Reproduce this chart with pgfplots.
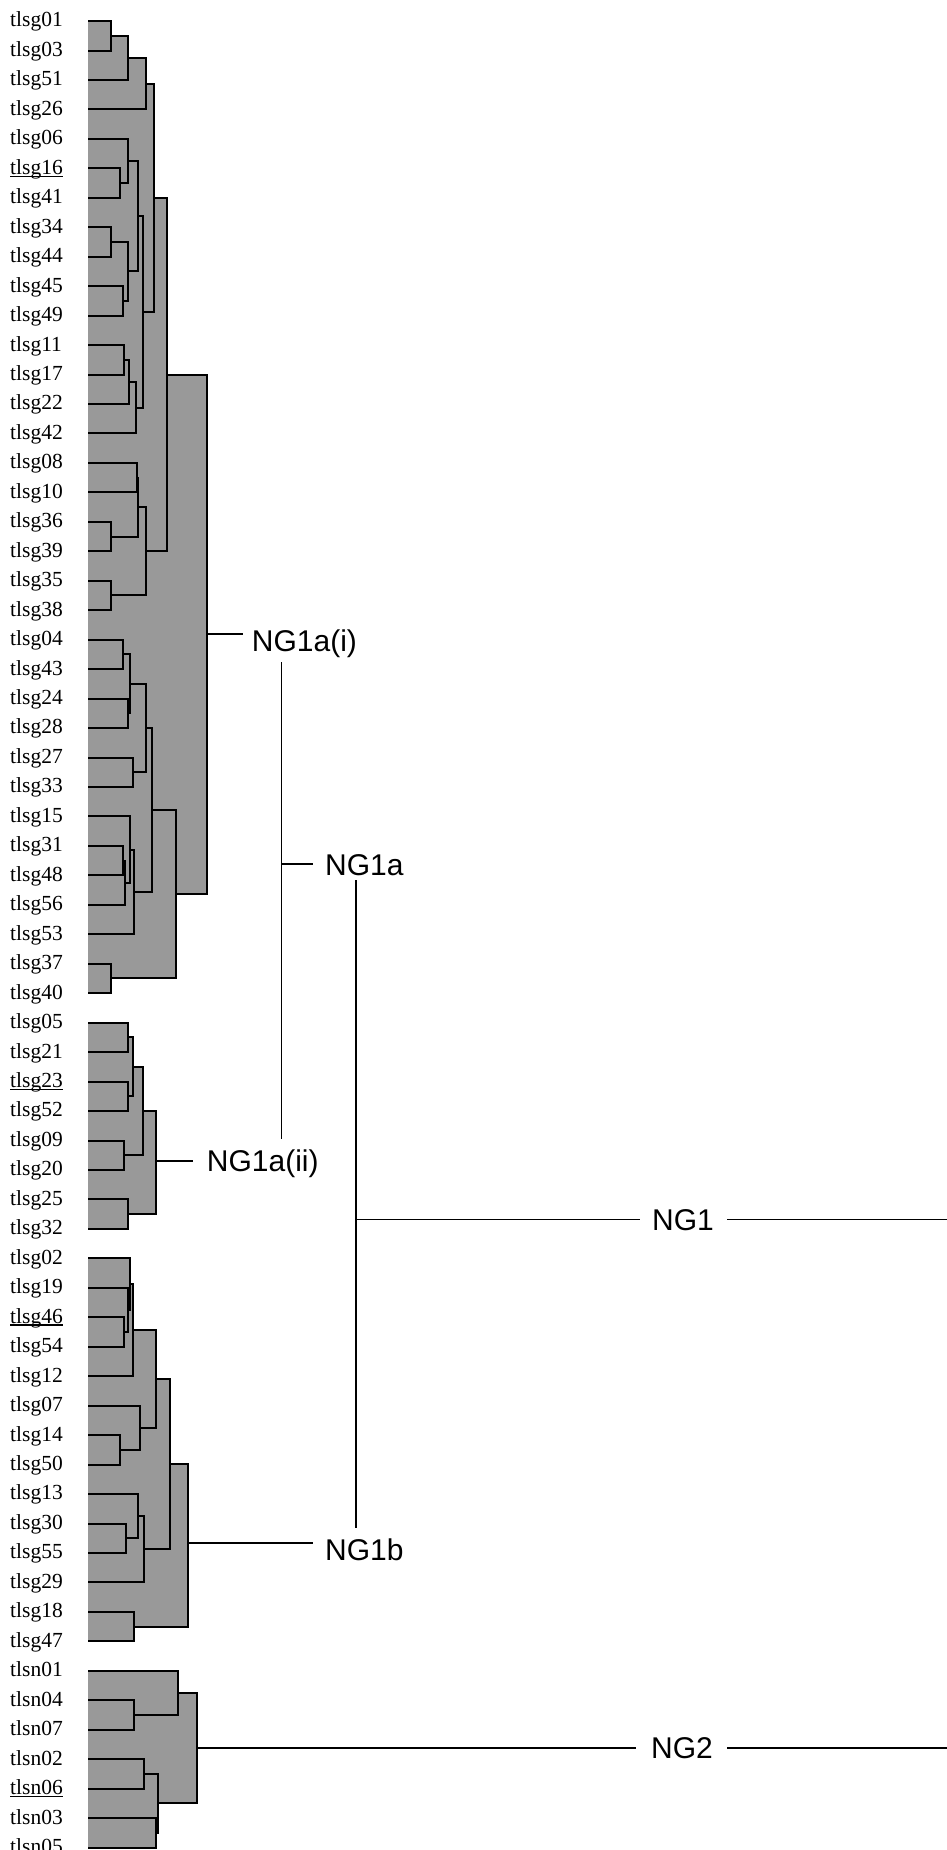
\documentclass[border=0pt]{standalone}
\usepackage{pgfplots}
\pgfplotsset{compat=1.18}
\usepackage{fontspec}
\setmainfont{Liberation Serif}
\newfontfamily\labsans{Liberation Sans}
\definecolor{gfill}{RGB}{153,153,153}
\definecolor{lnc}{RGB}{0,0,0}
\DeclareRobustCommand{\ul}[1]{\setbox0\hbox{#1}\rlap{\rule[-2.6pt]{\wd0}{1.3pt}}\box0}
\begin{document}
\begin{tikzpicture}
\begin{axis}[
 scale only axis, width=947pt, height=1850pt,
 xmin=0, xmax=947, ymin=0, ymax=1850, y dir=reverse,
 axis line style={draw=none}, major tick length=0pt, xtick=\empty,
 ytick={21.0,50.5,79.9,109.4,138.8,168.3,197.8,227.2,256.7,286.1,315.6,345.1,374.5,404.0,433.4,462.9,492.4,521.8,551.3,580.7,610.2,639.7,669.1,698.6,728.0,757.5,787.0,816.4,845.9,875.3,904.8,934.3,963.7,993.2,1022.6,1052.1,1081.6,1111.0,1140.5,1169.9,1199.4,1228.9,1258.3,1287.8,1317.2,1346.7,1376.2,1405.6,1435.1,1464.5,1494.0,1523.5,1552.9,1582.4,1611.8,1641.3,1670.8,1700.2,1729.7,1759.1,1788.6,1818.1,1847.5},
 yticklabels={tlsg01,tlsg03,tlsg51,tlsg26,tlsg06,\ul{tlsg16},tlsg41,tlsg34,tlsg44,tlsg45,tlsg49,tlsg11,tlsg17,tlsg22,tlsg42,tlsg08,tlsg10,tlsg36,tlsg39,tlsg35,tlsg38,tlsg04,tlsg43,tlsg24,tlsg28,tlsg27,tlsg33,tlsg15,tlsg31,tlsg48,tlsg56,tlsg53,tlsg37,tlsg40,tlsg05,tlsg21,\ul{tlsg23},tlsg52,tlsg09,tlsg20,tlsg25,tlsg32,tlsg02,tlsg19,\ul{tlsg46},tlsg54,tlsg12,tlsg07,tlsg14,tlsg50,tlsg13,tlsg30,tlsg55,tlsg29,tlsg18,tlsg47,tlsn01,tlsn04,tlsn07,tlsn02,\ul{tlsn06},tlsn03,tlsn05},
 yticklabel style={anchor=base west, inner sep=0pt, xshift=10pt, yshift=-5.9pt, font=\fontsize{21.5}{25}\selectfont},
 clip=false, unbounded coords=jump,
]
% gray fill of every cluster bracket
\addplot[fill=gfill, draw=none] coordinates {
(88,21.0) (110.7,21.0) (110.7,50.5) (88,50.5) (nan,nan)
(88,35.75) (128.3,35.75) (128.3,79.9) (88,79.9) (nan,nan)
(88,57.8) (146,57.8) (146,109.4) (88,109.4) (nan,nan)
(88,168.3) (120,168.3) (120,197.8) (88,197.8) (nan,nan)
(88,138.8) (128.3,138.8) (128.3,183.05) (88,183.05) (nan,nan)
(88,227.2) (110.7,227.2) (110.7,256.7) (88,256.7) (nan,nan)
(88,286.1) (122.7,286.1) (122.7,315.6) (88,315.6) (nan,nan)
(88,241.95) (128.3,241.95) (128.3,300.85) (88,300.85) (nan,nan)
(88,160.9) (138.3,160.9) (138.3,271.4) (88,271.4) (nan,nan)
(88,345.1) (124.3,345.1) (124.3,374.5) (88,374.5) (nan,nan)
(88,359.8) (128.5,359.8) (128.5,404.0) (88,404.0) (nan,nan)
(88,381.9) (136,381.9) (136,433.4) (88,433.4) (nan,nan)
(88,216.15) (142.7,216.15) (142.7,407.65) (88,407.65) (nan,nan)
(88,83.6) (154,83.6) (154,311.9) (88,311.9) (nan,nan)
(88,462.9) (136.7,462.9) (136.7,492.4) (88,492.4) (nan,nan)
(88,521.8) (110.7,521.8) (110.7,551.3) (88,551.3) (nan,nan)
(88,477.65) (138.3,477.65) (138.3,536.55) (88,536.55) (nan,nan)
(88,580.7) (110.7,580.7) (110.7,610.2) (88,610.2) (nan,nan)
(88,507.1) (146,507.1) (146,595.45) (88,595.45) (nan,nan)
(88,197.75) (167,197.75) (167,551.3) (88,551.3) (nan,nan)
(88,639.7) (122.7,639.7) (122.7,669.1) (88,669.1) (nan,nan)
(88,698.6) (128.3,698.6) (128.3,728.0) (88,728.0) (nan,nan)
(88,654.4) (130,654.4) (130,713.3) (88,713.3) (nan,nan)
(88,757.5) (132.7,757.5) (132.7,787.0) (88,787.0) (nan,nan)
(88,683.85) (146,683.85) (146,772.25) (88,772.25) (nan,nan)
(88,845.9) (122.7,845.9) (122.7,875.3) (88,875.3) (nan,nan)
(88,860.6) (125,860.6) (125,904.8) (88,904.8) (nan,nan)
(88,816.4) (130,816.4) (130,882.7) (88,882.7) (nan,nan)
(88,849.55) (134.3,849.55) (134.3,934.3) (88,934.3) (nan,nan)
(88,728.05) (152,728.05) (152,891.9) (88,891.9) (nan,nan)
(88,963.7) (110.7,963.7) (110.7,993.2) (88,993.2) (nan,nan)
(88,810) (175.7,810) (175.7,978.45) (88,978.45) (nan,nan)
(88,374.5) (206.7,374.5) (206.7,894.2) (88,894.2) (nan,nan)
(88,1022.6) (128.3,1022.6) (128.3,1052.1) (88,1052.1) (nan,nan)
(88,1081.6) (128.3,1081.6) (128.3,1111.0) (88,1111.0) (nan,nan)
(88,1037.35) (132.7,1037.35) (132.7,1096.3) (88,1096.3) (nan,nan)
(88,1140.5) (124.3,1140.5) (124.3,1169.9) (88,1169.9) (nan,nan)
(88,1066.8) (142.7,1066.8) (142.7,1155.2) (88,1155.2) (nan,nan)
(88,1199.4) (128.3,1199.4) (128.3,1228.9) (88,1228.9) (nan,nan)
(88,1111) (156,1111) (156,1214.15) (88,1214.15) (nan,nan)
(88,1317.2) (124.3,1317.2) (124.3,1346.7) (88,1346.7) (nan,nan)
(88,1287.8) (127.7,1287.8) (127.7,1331.95) (88,1331.95) (nan,nan)
(88,1258.3) (130,1258.3) (130,1309.9) (88,1309.9) (nan,nan)
(88,1284.1) (132.7,1284.1) (132.7,1376.2) (88,1376.2) (nan,nan)
(88,1435.1) (120,1435.1) (120,1464.5) (88,1464.5) (nan,nan)
(88,1405.6) (140,1405.6) (140,1449.8) (88,1449.8) (nan,nan)
(88,1330.15) (156,1330.15) (156,1427.7) (88,1427.7) (nan,nan)
(88,1523.5) (126,1523.5) (126,1552.9) (88,1552.9) (nan,nan)
(88,1494.0) (137.7,1494.0) (137.7,1538.2) (88,1538.2) (nan,nan)
(88,1516.1) (144,1516.1) (144,1582.4) (88,1582.4) (nan,nan)
(88,1378.9) (170,1378.9) (170,1549.25) (88,1549.25) (nan,nan)
(88,1611.8) (134.3,1611.8) (134.3,1641.3) (88,1641.3) (nan,nan)
(88,1464.1) (187.7,1464.1) (187.7,1626.55) (88,1626.55) (nan,nan)
(88,1700.2) (134.3,1700.2) (134.3,1729.7) (88,1729.7) (nan,nan)
(88,1670.8) (177.7,1670.8) (177.7,1714.95) (88,1714.95) (nan,nan)
(88,1759.1) (144,1759.1) (144,1788.6) (88,1788.6) (nan,nan)
(88,1818.1) (156,1818.1) (156,1847.5) (88,1847.5) (nan,nan)
(88,1773.85) (157.7,1773.85) (157.7,1832.8) (88,1832.8) (nan,nan)
(88,1692.9) (197.3,1692.9) (197.3,1803.3) (88,1803.3)
};
% bracket lines
\addplot[draw=lnc, line width=2pt] coordinates {
(88,21.0) (110.7,21.0) (110.7,50.5) (88,50.5) (nan,nan)
(110.7,35.75) (128.3,35.75) (128.3,79.9) (88,79.9) (nan,nan)
(128.3,57.8) (146,57.8) (146,109.4) (88,109.4) (nan,nan)
(88,168.3) (120,168.3) (120,197.8) (88,197.8) (nan,nan)
(88,138.8) (128.3,138.8) (128.3,183.05) (120,183.05) (nan,nan)
(88,227.2) (110.7,227.2) (110.7,256.7) (88,256.7) (nan,nan)
(88,286.1) (122.7,286.1) (122.7,315.6) (88,315.6) (nan,nan)
(110.7,241.95) (128.3,241.95) (128.3,300.85) (122.7,300.85) (nan,nan)
(128.3,160.9) (138.3,160.9) (138.3,271.4) (128.3,271.4) (nan,nan)
(88,345.1) (124.3,345.1) (124.3,374.5) (88,374.5) (nan,nan)
(124.3,359.8) (128.5,359.8) (128.5,404.0) (88,404.0) (nan,nan)
(128.5,381.9) (136,381.9) (136,433.4) (88,433.4) (nan,nan)
(138.3,216.15) (142.7,216.15) (142.7,407.65) (136,407.65) (nan,nan)
(146,83.6) (154,83.6) (154,311.9) (142.7,311.9) (nan,nan)
(88,462.9) (136.7,462.9) (136.7,492.4) (88,492.4) (nan,nan)
(88,521.8) (110.7,521.8) (110.7,551.3) (88,551.3) (nan,nan)
(136.7,477.65) (138.3,477.65) (138.3,536.55) (110.7,536.55) (nan,nan)
(88,580.7) (110.7,580.7) (110.7,610.2) (88,610.2) (nan,nan)
(138.3,507.1) (146,507.1) (146,595.45) (110.7,595.45) (nan,nan)
(154,197.75) (167,197.75) (167,551.3) (146,551.3) (nan,nan)
(88,639.7) (122.7,639.7) (122.7,669.1) (88,669.1) (nan,nan)
(88,698.6) (128.3,698.6) (128.3,728.0) (88,728.0) (nan,nan)
(122.7,654.4) (130,654.4) (130,713.3) (128.3,713.3) (nan,nan)
(88,757.5) (132.7,757.5) (132.7,787.0) (88,787.0) (nan,nan)
(130,683.85) (146,683.85) (146,772.25) (132.7,772.25) (nan,nan)
(88,845.9) (122.7,845.9) (122.7,875.3) (88,875.3) (nan,nan)
(122.7,860.6) (125,860.6) (125,904.8) (88,904.8) (nan,nan)
(88,816.4) (130,816.4) (130,882.7) (125,882.7) (nan,nan)
(130,849.55) (134.3,849.55) (134.3,934.3) (88,934.3) (nan,nan)
(146,728.05) (152,728.05) (152,891.9) (134.3,891.9) (nan,nan)
(88,963.7) (110.7,963.7) (110.7,993.2) (88,993.2) (nan,nan)
(152,810) (175.7,810) (175.7,978.45) (110.7,978.45) (nan,nan)
(167,374.5) (206.7,374.5) (206.7,894.2) (175.7,894.2) (nan,nan)
(88,1022.6) (128.3,1022.6) (128.3,1052.1) (88,1052.1) (nan,nan)
(88,1081.6) (128.3,1081.6) (128.3,1111.0) (88,1111.0) (nan,nan)
(128.3,1037.35) (132.7,1037.35) (132.7,1096.3) (128.3,1096.3) (nan,nan)
(88,1140.5) (124.3,1140.5) (124.3,1169.9) (88,1169.9) (nan,nan)
(132.7,1066.8) (142.7,1066.8) (142.7,1155.2) (124.3,1155.2) (nan,nan)
(88,1199.4) (128.3,1199.4) (128.3,1228.9) (88,1228.9) (nan,nan)
(142.7,1111) (156,1111) (156,1214.15) (128.3,1214.15) (nan,nan)
(88,1317.2) (124.3,1317.2) (124.3,1346.7) (88,1346.7) (nan,nan)
(88,1287.8) (127.7,1287.8) (127.7,1331.95) (124.3,1331.95) (nan,nan)
(88,1258.3) (130,1258.3) (130,1309.9) (127.7,1309.9) (nan,nan)
(130,1284.1) (132.7,1284.1) (132.7,1376.2) (88,1376.2) (nan,nan)
(88,1435.1) (120,1435.1) (120,1464.5) (88,1464.5) (nan,nan)
(88,1405.6) (140,1405.6) (140,1449.8) (120,1449.8) (nan,nan)
(132.7,1330.15) (156,1330.15) (156,1427.7) (140,1427.7) (nan,nan)
(88,1523.5) (126,1523.5) (126,1552.9) (88,1552.9) (nan,nan)
(88,1494.0) (137.7,1494.0) (137.7,1538.2) (126,1538.2) (nan,nan)
(137.7,1516.1) (144,1516.1) (144,1582.4) (88,1582.4) (nan,nan)
(156,1378.9) (170,1378.9) (170,1549.25) (144,1549.25) (nan,nan)
(88,1611.8) (134.3,1611.8) (134.3,1641.3) (88,1641.3) (nan,nan)
(170,1464.1) (187.7,1464.1) (187.7,1626.55) (134.3,1626.55) (nan,nan)
(88,1700.2) (134.3,1700.2) (134.3,1729.7) (88,1729.7) (nan,nan)
(88,1670.8) (177.7,1670.8) (177.7,1714.95) (134.3,1714.95) (nan,nan)
(88,1759.1) (144,1759.1) (144,1788.6) (88,1788.6) (nan,nan)
(88,1818.1) (156,1818.1) (156,1847.5) (88,1847.5) (nan,nan)
(144,1773.85) (157.7,1773.85) (157.7,1832.8) (156,1832.8) (nan,nan)
(177.7,1692.9) (197.3,1692.9) (197.3,1803.3) (157.7,1803.3)
};
% group connectors
\addplot[draw=lnc, line width=1.7pt] coordinates {
(206.7,634) (243.3,634) (nan,nan)
(156,1161) (193.3,1161) (nan,nan)
(187.7,1543) (313.3,1543) (nan,nan)
(197.3,1748) (636,1748) (nan,nan)
(727,1748) (947,1748) (nan,nan)
(281.5,662) (281.5,1139.3) (nan,nan)
(281.5,864) (313,864) (nan,nan)
(356,880) (356,1528.3) (nan,nan)
(356,1219.5) (640,1219.5) (nan,nan)
(727,1219.5) (947,1219.5)
};
\node[anchor=base west, inner sep=0pt, font=\labsans\fontsize{30}{34}\selectfont] at (axis cs:251.7,651) {NG1a(i)};
\node[anchor=base west, inner sep=0pt, font=\labsans\fontsize{30}{34}\selectfont] at (axis cs:325,875) {NG1a};
\node[anchor=base west, inner sep=0pt, font=\labsans\fontsize{30}{34}\selectfont] at (axis cs:206.7,1171) {NG1a(ii)};
\node[anchor=base west, inner sep=0pt, font=\labsans\fontsize{30}{34}\selectfont] at (axis cs:652,1230) {NG1};
\node[anchor=base west, inner sep=0pt, font=\labsans\fontsize{30}{34}\selectfont] at (axis cs:325,1560) {NG1b};
\node[anchor=base west, inner sep=0pt, font=\labsans\fontsize{30}{34}\selectfont] at (axis cs:651,1758.5) {NG2};
\end{axis}
\pgfresetboundingbox
\path[use as bounding box] (current axis.south west) rectangle (current axis.north east);
\end{tikzpicture}
\end{document}
